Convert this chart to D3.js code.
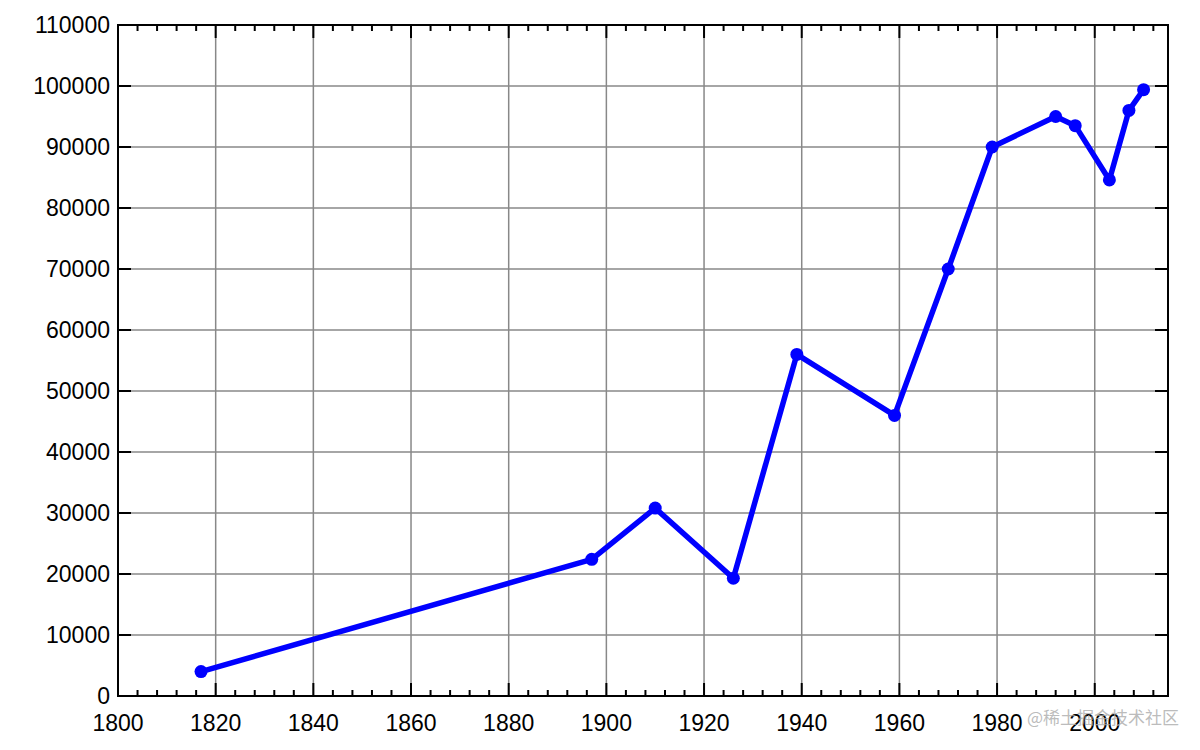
<!DOCTYPE html>
<html>
<head>
<meta charset="utf-8">
<script src="https://cdn.jsdelivr.net/npm/d3@7"></script>
<style>
    body { margin: 0; background: #fff; }
    svg { display: block; font-family: "Liberation Sans", Arial, sans-serif; }
</style>
</head>
<body>
<div id="chart"></div>
<script>
var years = [1817, 1897, 1910, 1926, 1939, 1959, 1970, 1979, 1992, 1996, 2003, 2007, 2010];
var values = [4000, 22400, 30800, 19300, 56000, 46000, 70000, 90000, 95000, 93500, 84600, 96000, 99400];
var xTicks = [1800, 1820, 1840, 1860, 1880, 1900, 1920, 1940, 1960, 1980, 2000];
var yTicks = [0, 10000, 20000, 30000, 40000, 50000, 60000, 70000, 80000, 90000, 100000, 110000];

var width = 1200, height = 750;
var margin = { top: 25, right: 32, bottom: 54, left: 118 };

var svg = d3.select('#chart').append('svg')
    .attr('width', width)
    .attr('height', height);

var x = d3.scaleLinear().domain([1800, 2015]).range([margin.left, width - margin.right]);
var y = d3.scaleLinear().domain([0, 110000]).range([height - margin.bottom, margin.top]);

var minorTicks = d3.range(1804, 2015, 4).filter(function (d) { return d % 20 !== 0; });

// grid
var grid = svg.append('g').attr('stroke', '#888').attr('stroke-width', 1.5);
grid.selectAll('.gx').data(xTicks.slice(1)).enter().append('line')
    .attr('x1', function (d) { return x(d); }).attr('x2', function (d) { return x(d); })
    .attr('y1', y(0)).attr('y2', y(110000));
grid.selectAll('.gy').data(yTicks.slice(1, -1)).enter().append('line')
    .attr('y1', function (d) { return y(d); }).attr('y2', function (d) { return y(d); })
    .attr('x1', x(1800)).attr('x2', x(2015));

// inward ticks, all four sides
var ticks = svg.append('g').attr('stroke', '#000').attr('stroke-width', 2);
function xTickLines(data, len) {
    ticks.append('g').selectAll('line').data(data).enter().append('line')
        .attr('x1', function (d) { return x(d); }).attr('x2', function (d) { return x(d); })
        .attr('y1', y(0)).attr('y2', y(0) - len);
    ticks.append('g').selectAll('line').data(data).enter().append('line')
        .attr('x1', function (d) { return x(d); }).attr('x2', function (d) { return x(d); })
        .attr('y1', y(110000)).attr('y2', y(110000) + len);
}
xTickLines(xTicks, 13);
xTickLines(minorTicks, 6);
ticks.append('g').selectAll('line').data(yTicks).enter().append('line')
    .attr('y1', function (d) { return y(d); }).attr('y2', function (d) { return y(d); })
    .attr('x1', x(1800)).attr('x2', x(1800) + 13);
ticks.append('g').selectAll('line').data(yTicks).enter().append('line')
    .attr('y1', function (d) { return y(d); }).attr('y2', function (d) { return y(d); })
    .attr('x1', x(2015)).attr('x2', x(2015) - 13);

// frame
svg.append('rect')
    .attr('x', x(1800)).attr('y', y(110000))
    .attr('width', x(2015) - x(1800)).attr('height', y(0) - y(110000))
    .attr('fill', 'none').attr('stroke', '#000').attr('stroke-width', 2);

// tick labels
svg.append('g').selectAll('text').data(xTicks).enter().append('text')
    .attr('x', function (d) { return x(d); })
    .attr('y', 731)
    .attr('text-anchor', 'middle')
    .style('font-size', '23px')
    .text(function (d) { return d; });
svg.append('g').selectAll('text').data(yTicks).enter().append('text')
    .attr('x', 110)
    .attr('y', function (d) { return y(d); })
    .attr('dy', '0.36em')
    .attr('text-anchor', 'end')
    .style('font-size', '23px')
    .text(function (d) { return d; });

// series
var pts = years.map(function (d, i) { return [d, values[i]]; });
var line = d3.line()
    .x(function (d) { return x(d[0]); })
    .y(function (d) { return y(d[1]); });
svg.append('path')
    .datum(pts)
    .attr('d', line)
    .attr('fill', 'none')
    .attr('stroke', '#0000ff')
    .attr('stroke-width', 5.5)
    .attr('stroke-linejoin', 'round');
svg.append('g').selectAll('circle').data(pts).enter().append('circle')
    .attr('cx', function (d) { return x(d[0]); })
    .attr('cy', function (d) { return y(d[1]); })
    .attr('r', 6.5)
    .attr('fill', '#0000ff');

// watermark
svg.append('text')
    .attr('x', 1179).attr('y', 724)
    .attr('text-anchor', 'end')
    .style('font-family', '"Noto Sans CJK SC", sans-serif')
    .style('font-size', '17px')
    .attr('fill', '#aaa')
    .attr('fill-opacity', 0.8)
    .text('@稀土掘金技术社区');
</script>
</body>
</html>
